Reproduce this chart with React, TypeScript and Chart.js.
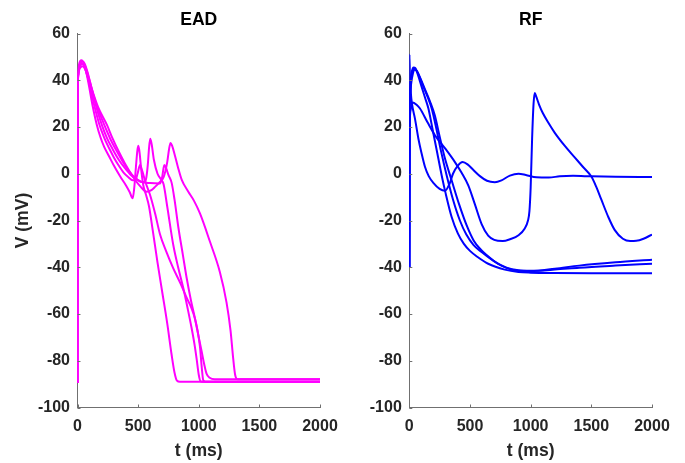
import React, { useEffect, useRef } from "react";
import { Chart, registerables } from "chart.js";

Chart.register(...registerables);

type Pt = [number, number];

// ---- Data (t in ms, V in mV) ----
const xTickStep = 500;
const yTickStep = 20;
const xRange: Pt = [0, 2000];
const yRange: Pt = [-100, 60];

const panelTitles = ["EAD", "RF"];
const xAxisTitle = "t (ms)";
const yAxisTitle = "V (mV)";

// EAD traces (magenta)
const ead1: Pt[] = [[0,-89.5],[1,38],[5,43.5],[12,46.5],[22,48.2],[35,48.6],[50,47.4],[70,44],[95,37.5],[125,29],[159,21],[190,15.5],[220,11.5],[260,7.5],[300,3.5],[350,-1],[400,-5],[430,-7.8],[455,-10.5],[468,-6],[482,3],[494,10],[502,12],[512,9],[525,2],[543,-5],[565,-9],[590,-14],[620,-24],[660,-38],[700,-51],[740,-64],[775,-77],[800,-85],[820,-88.5],[845,-89],[2000,-89]];
const ead2: Pt[] = [[0,-89.5],[1,36],[5,42],[12,45],[25,46.8],[40,47.2],[55,46.2],[75,43],[100,38],[135,30],[181,21],[220,15.5],[260,11],[300,7],[340,3.5],[380,0.5],[420,-1.5],[455,-2.8],[478,-2.8],[495,0],[516,3.7],[535,1],[560,-3.5],[598,-9],[640,-17],[681,-26],[730,-33],[790,-40.5],[850,-47],[900,-53],[940,-57.5],[969,-62],[990,-67],[1010,-74],[1025,-83],[1037,-88.3],[1055,-89],[2000,-89]];
const ead3: Pt[] = [[0,-89.5],[1,37],[5,43],[12,46],[25,47.5],[45,48],[60,47],[80,44],[105,39],[140,31.5],[200,21],[245,15],[290,10.5],[340,6],[390,2.5],[440,-0.5],[490,-2.5],[530,-3.5],[555,-3.5],[568,-1.5],[580,4],[590,11],[600,15],[612,12.5],[630,6],[660,0],[690,-2.5],[710,-4.5],[740,-14],[790,-30.5],[830,-40],[873,-49],[910,-58],[941,-66],[965,-73],[982,-79],[1000,-86],[1015,-88.8],[1040,-89],[2000,-89]];
const ead4: Pt[] = [[0,-89.5],[1,35],[5,41],[12,44],[25,45.5],[42,46],[60,45],[85,41.5],[115,36.5],[160,29],[220,21],[270,15],[320,10],[370,5.5],[420,1.5],[470,-1.5],[520,-3.3],[600,-4],[680,-4.2],[698,-1.5],[716,3.7],[730,2.5],[750,-0.5],[777,-4],[800,-11],[832,-23],[870,-35],[900,-44.5],[935,-54],[969,-62],[1000,-70],[1024,-76],[1045,-81.5],[1064,-85.5],[1090,-87.3],[1133,-87.9],[2000,-87.9]];
const ead5: Pt[] = [[0,-89.5],[1,36],[5,42],[12,45],[25,46.5],[45,47],[62,46],[85,42.5],[120,36],[170,28.5],[242,21],[290,15],[340,9.5],[390,4.5],[430,1],[480,-3],[520,-5.5],[571,-7.7],[610,-7],[640,-5.6],[680,-3.5],[710,-1.5],[740,5],[755,10.5],[767,13.2],[780,12],[800,8.5],[830,2.5],[859,-2.5],[914,-7.7],[960,-11.5],[1010,-17],[1092,-29],[1174,-42],[1229,-55],[1262,-67],[1284,-79],[1300,-86],[1318,-87.9],[2000,-87.9]];

// RF traces (blue)
const rf1: Pt[] = [[0,-40],[1,51],[5,42],[12,35],[22,30],[47,23.5],[75,15],[100,9],[129,3],[160,-1],[200,-4],[250,-6.5],[294,-7.3],[330,-4.5],[360,0],[400,3.5],[440,5],[480,4],[530,1.5],[582,-1],[640,-3],[705,-3.6],[760,-2.8],[829,-0.8],[900,0],[960,-0.5],[1048,-1.5],[1150,-1.6],[1240,-1.1],[1350,-0.9],[1500,-1.1],[1700,-1.3],[2000,-1.4]];
const rf2: Pt[] = [[0,-40],[3,18],[10,27],[28,30.5],[60,29.5],[88,27.9],[150,22],[211,16.5],[300,10.5],[376,5],[430,0.5],[486,-5],[540,-13],[596,-21.5],[650,-26.5],[700,-28.3],[770,-28.8],[830,-28],[900,-26.3],[950,-23.5],[978,-20],[990,-16],[1000,-6],[1012,15],[1024,30],[1034,34.5],[1046,33],[1070,29.5],[1100,26],[1150,21.5],[1199,17.5],[1280,12],[1363,7],[1430,3],[1500,-1.2],[1540,-5.5],[1582,-11],[1640,-18.5],[1692,-24],[1760,-27.8],[1820,-28.8],[1870,-28.7],[1930,-27.8],[2000,-26]];
const rf3: Pt[] = [[0,-40],[2,28],[6,36],[12,40.5],[22,44],[35,45.5],[50,45.2],[70,42.5],[100,37.5],[130,32.5],[157,28],[190,19.5],[230,9],[266,-0.5],[300,-8.5],[349,-18.5],[400,-25.5],[450,-30],[500,-33],[560,-35.5],[650,-38.5],[787,-41],[900,-42],[1000,-42.3],[1200,-42.5],[1500,-42.6],[2000,-42.6]];
const rf4: Pt[] = [[0,-40],[2,26],[6,34],[12,39],[25,43.5],[40,45],[55,44.6],[80,42],[110,38],[150,33],[184,28],[220,20],[260,10],[307,-0.5],[360,-11],[417,-20],[470,-26],[530,-30.5],[596,-33.5],[700,-37.5],[801,-40.2],[900,-41.3],[1000,-41.5],[1200,-41],[1400,-40.2],[1700,-39.3],[2000,-38.5]];
const rf5: Pt[] = [[0,-40],[2,24],[6,32],[14,38],[30,43],[45,44.5],[62,44],[90,41],[130,36],[170,31],[210,25],[250,16],[294,6.5],[350,-3],[410,-13],[472,-22],[530,-28.5],[590,-32.5],[637,-34.8],[729,-38.5],[829,-40.8],[900,-41.5],[1000,-41.6],[1200,-40.6],[1400,-39.3],[1700,-37.9],[2000,-36.8]];

const eadSeries = [ead1, ead2, ead3, ead4, ead5];
const rfSeries = [rf1, rf2, rf3, rf4, rf5];

// ---- Styles ----
const FONT = "'Liberation Sans', Arial, Helvetica, sans-serif";
const AXIS_COLOR = "#707070";
const TEXT_COLOR = "#262626";

const inwardTicks = {
  id: "inwardTicks",
  afterDatasetsDraw(chart: any) {
    const { ctx, chartArea, scales } = chart;
    const xs = scales.x;
    const ys = scales.y;
    ctx.save();
    ctx.strokeStyle = AXIS_COLOR;
    ctx.lineWidth = 1;
    ctx.beginPath();
    xs.ticks.forEach((t: any) => {
      const px = Math.round(xs.getPixelForValue(t.value)) + 0.5;
      ctx.moveTo(px, chartArea.bottom);
      ctx.lineTo(px, chartArea.bottom - 3);
    });
    ys.ticks.forEach((t: any) => {
      const py = Math.round(ys.getPixelForValue(t.value)) + 0.5;
      ctx.moveTo(chartArea.left, py);
      ctx.lineTo(chartArea.left + 3, py);
    });
    ctx.stroke();
    ctx.restore();
  },
};

interface PanelProps {
  series: Pt[][];
  color: string;
  title: string;
  showYTitle: boolean;
  left: number;
  width: number;
  yScaleWidth: number;
  padRight: number;
}

function Panel(props: PanelProps) {
  const ref = useRef<HTMLCanvasElement | null>(null);
  useEffect(() => {
    if (!ref.current) return;
    const chart = new Chart(ref.current, {
      type: "line",
      data: {
        datasets: props.series.map((s, i) => ({
          label: props.title + " " + (i + 1),
          data: s.map(([x, y]) => ({ x, y })),
          borderColor: props.color,
          backgroundColor: props.color,
          borderWidth: 2,
          pointRadius: 0,
          fill: false,
          cubicInterpolationMode: "monotone" as const,
        })),
      },
      options: {
        animation: false,
        responsive: false,
        devicePixelRatio: 1,
        layout: { padding: { left: 0, right: props.padRight, top: 0, bottom: 0 } },
        plugins: {
          legend: { display: false },
          tooltip: { enabled: false },
          title: {
            display: true,
            text: props.title,
            fullSize: false,
            color: "#000",
            font: { family: FONT, size: 17.6, weight: "bold", lineHeight: 1.2 },
            padding: { top: 9.5, bottom: 2.9 },
          },
        },
        scales: {
          x: {
            type: "linear",
            min: xRange[0],
            max: xRange[1],
            grid: { display: false, drawTicks: false },
            border: { display: true, color: AXIS_COLOR, width: 1 },
            ticks: {
              stepSize: xTickStep,
              padding: 9,
              maxRotation: 0,
              autoSkip: false,
              color: TEXT_COLOR,
              font: { family: FONT, size: 16, weight: "bold", lineHeight: 1.2 },
              callback: (v: any) => String(v),
            },
            title: {
              display: true,
              text: xAxisTitle,
              color: TEXT_COLOR,
              font: { family: FONT, size: 17.6, weight: "bold", lineHeight: 1.2 },
              padding: { top: 0, bottom: 1 },
            },
            afterFit: (s: any) => {
              s.height = 55.5;
              s.paddingLeft = 0;
              s.paddingRight = 0;
            },
          },
          y: {
            type: "linear",
            min: yRange[0],
            max: yRange[1],
            grid: { display: false, drawTicks: false },
            border: { display: true, color: AXIS_COLOR, width: 1 },
            ticks: {
              stepSize: yTickStep,
              padding: 7.5,
              autoSkip: false,
              color: TEXT_COLOR,
              font: { family: FONT, size: 16, weight: "bold", lineHeight: 1.2 },
              callback: (v: any) => String(v),
            },
            title: {
              display: props.showYTitle,
              text: yAxisTitle,
              color: TEXT_COLOR,
              font: { family: FONT, size: 17.6, weight: "bold", lineHeight: 1.2 },
              padding: { top: 12.5, bottom: 0 },
            },
            afterFit: (s: any) => {
              s.width = props.yScaleWidth;
            },
          },
        },
      } as any,
      plugins: [inwardTicks],
    });
    return () => chart.destroy();
  }, []);
  return (
    <canvas
      ref={ref}
      width={props.width}
      height={463}
      style={{ position: "absolute", left: props.left, top: 0, width: props.width, height: 463 }}
    />
  );
}

export default function App() {
  return (
    <div
      style={{
        position: "absolute",
        left: 0,
        top: 0,
        width: 685,
        height: 463,
        overflow: "hidden",
        background: "#fff",
      }}
    >
      <Panel series={eadSeries} color="#ff00ff" title={panelTitles[0]} showYTitle={true} left={0} width={342} yScaleWidth={77.5} padRight={22} />
      <Panel series={rfSeries} color="#0000ff" title={panelTitles[1]} showYTitle={false} left={342} width={343} yScaleWidth={67.3} padRight={33} />
    </div>
  );
}
